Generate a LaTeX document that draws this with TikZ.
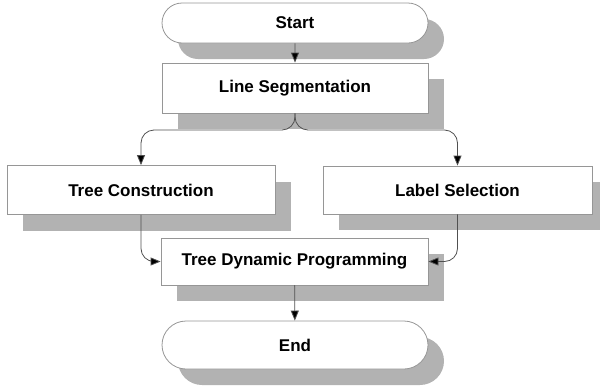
\documentclass[tikz,border=0pt]{standalone}
\usepackage{fontspec}
\setmainfont{Liberation Sans}
\usetikzlibrary{shapes.misc,shadows,arrows.meta}
\definecolor{shadowgray}{RGB}{178,178,178}
\definecolor{bordergray}{RGB}{150,150,150}
\definecolor{linegray}{RGB}{80,80,80}
\tikzset{
  box/.style={draw=bordergray, line width=0.8pt, fill=white, inner sep=0pt,
    font=\fontsize{17}{19}\selectfont\bfseries,
    drop shadow={shadow xshift=16pt, shadow yshift=-16pt, fill=shadowgray, opacity=1}},
  term/.style={box, rounded rectangle},
  arr/.style={draw=linegray, line width=0.8pt, -{Triangle[length=10pt,width=8pt,fill=black]}, rounded corners=13pt}
}
\begin{document}
\begin{tikzpicture}[x=1pt,y=-1pt]
\useasboundingbox (0,0) rectangle (600,386);
\node[term, minimum width=266pt, minimum height=40pt] (start) at (295,23) {Start};
\node[box, minimum width=266pt, minimum height=50pt] (ls) at (295,88) {Line Segmentation};
\node[box, minimum width=268pt, minimum height=49pt] (tc) at (141,190) {Tree Construction};
\node[box, minimum width=269pt, minimum height=48pt] (lsel) at (457.5,190) {Label Selection};
\node[box, minimum width=267pt, minimum height=47pt] (tdp) at (294.5,261.5) {Tree Dynamic Programming};
\node[term, minimum width=266pt, minimum height=48pt] (end) at (295,345) {End};
\coordinate (split) at (295,130);
\draw[arr] (start) -- (ls);
\draw[arr] (ls.south) -- (split) -| (tc.north);
\draw[arr] (ls.south) -- (split) -| (lsel.north);
\draw[arr] (tc.south) |- (tdp.west);
\draw[arr] (lsel.south) |- (tdp.east);
\draw[arr] (tdp) -- (end);
\end{tikzpicture}
\end{document}
